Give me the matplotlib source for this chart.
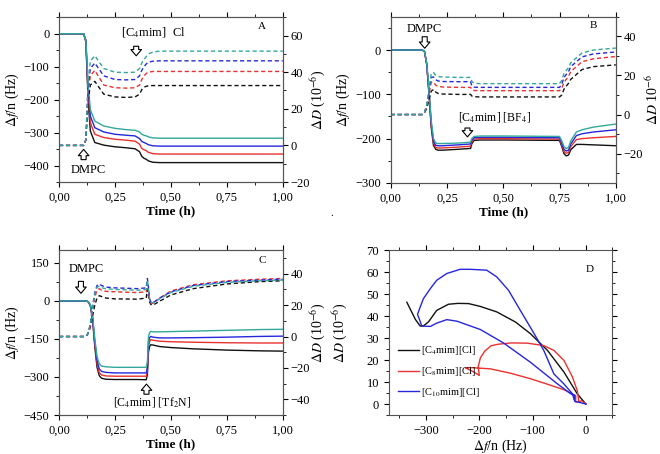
import matplotlib.pyplot as plt
from matplotlib.ticker import MultipleLocator, FuncFormatter

plt.rcParams['font.family'] = ['Liberation Serif', 'DejaVu Serif']
plt.rcParams['mathtext.fontset'] = 'stix'
plt.rcParams['font.size'] = 9

# colours: teal, blue, red, black (drawn black first so teal is on top)
col_teal = '#33a89a'
col_blue = '#2626dd'
col_red = '#e8322f'
col_black = '#111111'

# ---- panel A : [C4mim]Cl ----
t_a = [0, 0.11, 0.12, 0.13, 0.14, 0.16, 0.20, 0.25, 0.30, 0.34, 0.36, 0.37, 0.38, 0.39, 0.40, 0.42, 0.45, 0.60, 0.80, 1.00]
a_f_teal = [0, 0, -20, -150, -230, -265, -280, -287, -291, -293, -298, -305, -308, -310, -313, -316, -317, -317, -317, -317]
a_f_blue = [0, 0, -20, -170, -250, -285, -298, -305, -308, -310, -318, -327, -330, -333, -337, -340, -341, -341, -341, -341]
a_f_red = [0, 0, -20, -180, -270, -305, -315, -320, -323, -326, -335, -348, -352, -355, -360, -364, -365, -365, -365, -365]
a_f_black = [0, 0, -25, -200, -295, -330, -338, -343, -346, -349, -358, -372, -378, -381, -386, -390, -391, -391, -391, -391]
a_d_teal = [0, 0, 3, 35, 46, 49, 42, 40, 39.8, 40, 42, 45, 47, 48.5, 50, 51, 51.5, 51.5, 51.5, 51.5]
a_d_blue = [0, 0, 3, 32, 42, 45, 38, 36, 35.8, 36, 38, 41, 43, 44.5, 45.5, 46, 46.2, 46.2, 46.2, 46.2]
a_d_red = [0, 0, 3, 28, 38, 41, 33, 31.5, 31.3, 31.5, 33, 36, 38, 39.3, 40, 40.4, 40.4, 40.4, 40.4, 40.4]
a_d_black = [0, 0, 3, 24, 33, 35, 28, 26.5, 26.2, 26.5, 28, 30.5, 31.8, 32.3, 32.6, 32.7, 32.7, 32.7, 32.7, 32.7]

# ---- panel B : [C4mim][BF4] ----
t_b = [0, 0.14, 0.15, 0.16, 0.17, 0.18, 0.19, 0.20, 0.21, 0.23, 0.30, 0.355, 0.36, 0.37, 0.40, 0.50, 0.75, 0.76, 0.77, 0.78, 0.79, 0.80, 0.825, 0.85, 0.90, 1.00]
b_f_teal = [0, 0, -3, -30, -90, -160, -200, -210, -211, -211, -210, -208, -200, -195, -194, -194, -195, -205, -218, -222, -220, -205, -185, -180, -174, -167]
b_f_blue = [0, 0, -3, -31, -93, -165, -205, -215, -216, -216, -214, -212, -204, -198, -197, -197, -198, -210, -224, -228, -226, -212, -193, -189, -185, -180]
b_f_red = [0, 0, -3, -32, -96, -170, -210, -220, -221, -221, -219, -217, -208, -201, -200, -200, -201, -214, -229, -233, -231, -218, -202, -200, -198, -195]
b_f_black = [0, 0, -3, -33, -100, -175, -215, -224, -226, -226, -224, -222, -212, -204, -203, -203, -204, -218, -234, -239, -237, -225, -213, -213, -214, -216]
b_d_teal = [0, 0, 1, 5, 13, 21, 21.5, 20, 19.5, 19.2, 19, 19, 17, 16, 15.8, 15.8, 15.8, 17.5, 21, 22.5, 24, 26.5, 29, 31.5, 33, 34]
b_d_blue = [0, 0, 1, 4.5, 12, 19, 19.2, 17.8, 17.2, 16.9, 16.8, 16.8, 14.8, 14, 13.9, 13.9, 13.9, 15.5, 19, 20.5, 22, 24.5, 27, 29.5, 31, 32]
b_d_red = [0, 0, 1, 4, 10.5, 16.5, 16.6, 15, 14.4, 14.1, 13.9, 13.9, 12.8, 12.3, 12.2, 12.2, 12.2, 13.5, 16.5, 18, 19.5, 22, 24.5, 27, 28.5, 29.7]
b_d_black = [0, 0, 1, 3, 7.5, 12, 12.8, 11.5, 10.8, 10.5, 10.3, 10.3, 9.5, 9.1, 9, 9, 9, 10, 13, 14.5, 16, 18, 20.5, 23, 24.5, 25.4]

# ---- panel C : [C4mim][Tf2N] ----
t_c = [0, 0.12, 0.13, 0.14, 0.15, 0.16, 0.17, 0.18, 0.19, 0.21, 0.25, 0.35, 0.39, 0.395, 0.40, 0.405, 0.41, 0.42, 0.45, 0.50, 0.60, 0.75, 0.90, 1.00]
c_f_teal = [0, 0, -3, -15, -60, -150, -220, -248, -257, -260, -262, -262, -262, -240, -140, -125, -120, -122, -122, -121, -119, -116, -113, -112]
c_f_blue = [0, 0, -3, -16, -65, -160, -235, -268, -278, -282, -284, -284, -284, -262, -160, -145, -140, -143, -146, -146, -145, -143, -140, -139]
c_f_red = [0, 0, -3, -17, -70, -170, -250, -283, -292, -296, -297, -297, -297, -276, -180, -160, -153, -155, -159, -161, -163, -165, -166, -166]
c_f_black = [0, 0, -3, -18, -75, -180, -262, -295, -305, -309, -310, -310, -311, -290, -200, -180, -173, -174, -180, -184, -189, -194, -197, -198]
c_d_teal = [0, 0, 2, 8, 18, 27, 31.5, 32, 31, 30.5, 30, 29.5, 30, 36, 30, 24, 22, 21.5, 24, 28, 32, 34.5, 35.5, 36]
c_d_blue = [0, 0, 2, 8, 19, 28, 32.5, 33.5, 32.5, 31.5, 31, 30.5, 31, 37, 31, 24, 22, 21.5, 24.5, 28.5, 32.5, 35, 36, 36.5]
c_d_red = [0, 0, 2, 7, 16, 25, 29.5, 30.5, 29.5, 28.8, 28.5, 28, 28.5, 34, 28.5, 23, 21.5, 21, 24.5, 29, 33, 35.5, 36.5, 37]
c_d_black = [0, 0, 2, 6, 13, 20, 24.5, 26, 25.5, 24.5, 24, 23.8, 24.5, 30, 26, 22, 20.5, 20, 22.5, 26.5, 30.5, 33.5, 35, 35.5]

# ---- panel D : dD vs df ----
d_black_x = [0, -16, -41, -72, -104, -132, -167, -198, -220, -240, -258, -280, -295, -305, -311, -320, -336]
d_black_y = [0, 4.6, 14.5, 24.4, 32.0, 37.3, 41.9, 44.4, 45.7, 45.8, 45.4, 42.6, 37.5, 35.5, 35.5, 38.5, 46.3]
d_red_x = [0, -8, -13, -19, -19, -25, -41, -72, -104, -141, -179, -204, -218, -226, -212, -200, -202, -198, -190, -178, -165, -140, -110, -79, -60, -41, -25, -16, -13]
d_red_y = [0, 1.5, 1.0, 1.0, 3.8, 4.5, 6.5, 9.0, 11.5, 14.0, 16.0, 16.4, 16.6, 16.4, 14.8, 13.0, 17.0, 21.0, 24.0, 26.5, 27.2, 27.8, 27.7, 26.6, 24.4, 19.8, 12.2, 6.0, 1.0]
d_blue_x = [0, -10, -21, -21, -28, -53, -104, -154, -198, -242, -261, -280, -292, -308, -314, -316, -311, -305, -292, -280, -261, -236, -217, -186, -167, -145, -123, -97, -79, -60, -41, -25, -22]
d_blue_y = [0, 0.6, 1.2, 4.0, 4.6, 9.1, 19.0, 27.7, 33.9, 37.7, 38.4, 36.8, 35.3, 35.5, 39.6, 40.8, 44.1, 47.9, 52.5, 56.3, 59.4, 61.3, 61.3, 60.9, 57.8, 51.7, 42.6, 32.0, 24.4, 13.7, 9.1, 4.6, 2.0]
d_labels = ['[C$_4$mim][Cl]', '[C$_8$mim][Cl]', '[C$_{10}$mim][Cl]']

comma = FuncFormatter(lambda v, _: f'{v:.2f}'.replace('.', ','))
arrow_style = dict(arrowstyle='simple,head_length=0.5,head_width=0.85,tail_width=0.4',
                   fc='white', ec='black', lw=0.8, shrinkA=0, shrinkB=0)


def time_panel(rect, t, f_list, d_list, f_lim, f_ticks, f_minor, d_lim, d_ticks, d_label, d_label_x):
    ax = fig.add_axes(rect)
    ax2 = ax.twinx()
    cols = [col_black, col_red, col_blue, col_teal]
    for c, f in zip(cols, f_list):
        ax.plot(t, f, color=c, lw=1.0)
    for c, d in zip(cols, d_list):
        ax2.plot(t, d, color=c, lw=1.0, ls=(0, (3, 2)))
    ax.set_xlim(0, 1)
    ax.set_ylim(*f_lim)
    ax.set_yticks(f_ticks)
    ax.yaxis.set_minor_locator(MultipleLocator(f_minor))
    ax.xaxis.set_major_locator(MultipleLocator(0.25))
    ax.xaxis.set_minor_locator(MultipleLocator(0.125))
    ax.xaxis.set_major_formatter(comma)
    ax2.set_ylim(*d_lim)
    ax2.set_yticks(d_ticks)
    ax2.yaxis.set_minor_locator(MultipleLocator(10))
    ax.tick_params(which='both', direction='out', labelsize=9)
    ax.tick_params(which='both', axis='x', top=True)
    ax.tick_params(which='major', length=3.5)
    ax.tick_params(which='minor', length=2)
    ax2.tick_params(which='major', direction='out', length=3.5, labelsize=9, pad=2)
    ax2.tick_params(which='minor', direction='out', length=2)
    ax.set_xlabel('Time (h)', fontweight='bold', fontsize=9.5, labelpad=1)
    ax.set_ylabel(r'$\Delta f$/n (Hz)', fontsize=10, labelpad=2)
    ax2.set_ylabel(d_label, fontsize=10, rotation=90, ha='center', va='center')
    ax2.yaxis.set_label_coords(d_label_x, 0.5)
    for a in (ax, ax2):
        for s in a.spines.values():
            s.set_color('#555555')
            s.set_linewidth(0.8)
    return ax


fig = plt.figure(figsize=(6.6, 4.54), dpi=100)

# A
ax_a = time_panel([0.0894, 0.599, 0.339, 0.363], t_a,
                  [a_f_black, a_f_red, a_f_blue, a_f_teal],
                  [a_d_black, a_d_red, a_d_blue, a_d_teal],
                  (-450, 50), [-400, -300, -200, -100, 0], 50,
                  (-20, 70), [-20, 0, 20, 40, 60], r'$\Delta D$ (10$^{-6}$)', 1.16)
ax_a.annotate('', xy=(0.11, -351), xytext=(0.11, -382), arrowprops=arrow_style)
ax_a.text(0.13, -413, 'DMPC', ha='center', va='center', fontsize=9)
ax_a.annotate('', xy=(0.345, -67), xytext=(0.345, -38), arrowprops=arrow_style)
ax_a.text(0.275, 3, '[C$_4$mim]  Cl', ha='left', va='center', fontsize=9)
ax_a.text(0.906, 21, 'A', ha='center', va='center', fontsize=8)

# B
ax_b = time_panel([0.592, 0.597, 0.341, 0.366], t_b,
                  [b_f_black, b_f_red, b_f_blue, b_f_teal],
                  [b_d_black, b_d_red, b_d_blue, b_d_teal],
                  (-300, 75), [-300, -200, -100, 0], 50,
                  (-35, 50), [-20, 0, 20, 40], r'$\Delta D$ 10$^{-6}$', 1.165)
ax_b.annotate('', xy=(0.151, 4), xytext=(0.151, 30), arrowprops=arrow_style)
ax_b.text(0.15, 48, 'DMPC', ha='center', va='center', fontsize=9)
ax_b.annotate('', xy=(0.341, -196), xytext=(0.341, -176), arrowprops=arrow_style)
ax_b.text(0.30, -151, '[C$_4$mim] [BF$_4$]', ha='left', va='center', fontsize=8.5)
ax_b.text(0.9, 56, 'B', ha='center', va='center', fontsize=8)

# C
ax_c = time_panel([0.0894, 0.0859, 0.339, 0.363], t_c,
                  [c_f_black, c_f_red, c_f_blue, c_f_teal],
                  [c_d_black, c_d_red, c_d_blue, c_d_teal],
                  (-450, 200), [-450, -300, -150, 0, 150], 75,
                  (-50, 55), [-40, -20, 0, 20, 40], r'$\Delta D$ (10$^{-6}$)', 1.16)
ax_c.annotate('', xy=(0.098, 30), xytext=(0.098, 77), arrowprops=arrow_style)
ax_c.text(0.12, 126, 'DMPC', ha='center', va='center', fontsize=9)
ax_c.annotate('', xy=(0.391, -328), xytext=(0.391, -368), arrowprops=arrow_style)
ax_c.text(0.415, -397, '[C$_4$mim] [Tf$_2$N]', ha='center', va='center', fontsize=8.5)
ax_c.text(0.91, 160, 'C', ha='center', va='center', fontsize=8)

# D
ax_d = fig.add_axes([0.589, 0.0859, 0.339, 0.363])
ax_d.plot(d_black_x, d_black_y, color=col_black, lw=1.0, label=d_labels[0])
ax_d.plot(d_red_x, d_red_y, color=col_red, lw=1.0, label=d_labels[1])
ax_d.plot(d_blue_x, d_blue_y, color=col_blue, lw=1.0, label=d_labels[2])
ax_d.set_xlim(-370, 50)
ax_d.set_ylim(-5, 70)
ax_d.set_xticks([-300, -200, -100, 0])
ax_d.set_yticks(range(0, 71, 10))
ax_d.xaxis.set_minor_locator(MultipleLocator(50))
ax_d.yaxis.set_minor_locator(MultipleLocator(5))
ax_d.tick_params(which='both', direction='out', top=True, right=True, labelsize=9)
ax_d.tick_params(which='major', length=3.5)
ax_d.tick_params(which='minor', length=2)
ax_d.set_xlabel(r'$\Delta f$/n (Hz)', fontsize=10, labelpad=1)
ax_d.set_ylabel(r'$\Delta D$ (10$^{-6}$)', fontsize=10, ha='center', va='center')
ax_d.yaxis.set_label_coords(-0.215, 0.5)
for s in ax_d.spines.values():
    s.set_color('#555555')
    s.set_linewidth(0.8)
ax_d.text(8, 61, 'D', ha='center', va='center', fontsize=8)
ax_d.legend(loc='lower left', bbox_to_anchor=(0.0, 0.04), frameon=False, fontsize=7.5,
            handlelength=2.0, handletextpad=0.2, labelspacing=0.75)

fig.text(0.5, 0.525, '.', fontsize=8)

fig.savefig('out.png', dpi=100)
